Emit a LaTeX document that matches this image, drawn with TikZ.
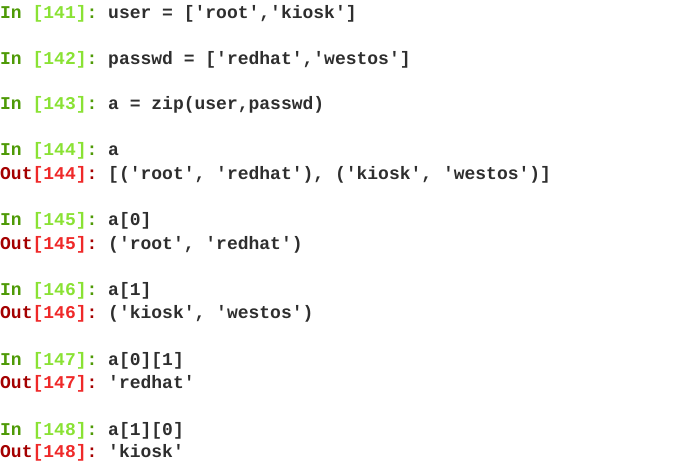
\documentclass[tikz,border=0pt]{standalone}
\usepackage{fontspec}
\setmonofont{Liberation Mono}
\definecolor{ingd}{HTML}{4E9A06}
\definecolor{ingl}{HTML}{8AE234}
\definecolor{outd}{HTML}{A40000}
\definecolor{outl}{HTML}{EF2929}
\definecolor{txt}{HTML}{2E2E2E}
\tikzset{ln/.style={anchor=west,inner sep=0pt,font=\ttfamily\bfseries\fontsize{18}{18}\selectfont,text=txt}}
\newcommand{\inp}[1]{\textcolor{ingd}{In}\ \textcolor{ingl}{[#1]}\textcolor{ingd}{:}\ }
\newcommand{\outp}[1]{\textcolor{outd}{Out}\textcolor{outl}{[#1]}\textcolor{outd}{:}\ }
\begin{document}
\begin{tikzpicture}[x=1pt,y=-1pt]
\useasboundingbox (0,0) rectangle (675,470);
\fill[white] (0,0) rectangle (675,470);
\node[ln] (l1) at (0,14) {\inp{141}user = ['root','kiosk']};
\node[ln] (l2) at (0,60) {\inp{142}passwd = ['redhat','westos']};
\node[ln] (l3) at (0,105) {\inp{143}a = zip(user,passwd)};
\node[ln] (l4) at (0,151) {\inp{144}a};
\node[ln] (l5) at (0,175) {\outp{144}[('root', 'redhat'), ('kiosk', 'westos')]};
\node[ln] (l6) at (0,221) {\inp{145}a[0]};
\node[ln] (l7) at (0,245) {\outp{145}('root', 'redhat')};
\node[ln] (l8) at (0,291) {\inp{146}a[1]};
\node[ln] (l9) at (0,314) {\outp{146}('kiosk', 'westos')};
\node[ln] (l10) at (0,361) {\inp{147}a[0][1]};
\node[ln] (l11) at (0,384) {\outp{147}'redhat'};
\node[ln] (l12) at (0,431) {\inp{148}a[1][0]};
\node[ln] (l13) at (0,453) {\outp{148}'kiosk'};
\end{tikzpicture}
\end{document}
